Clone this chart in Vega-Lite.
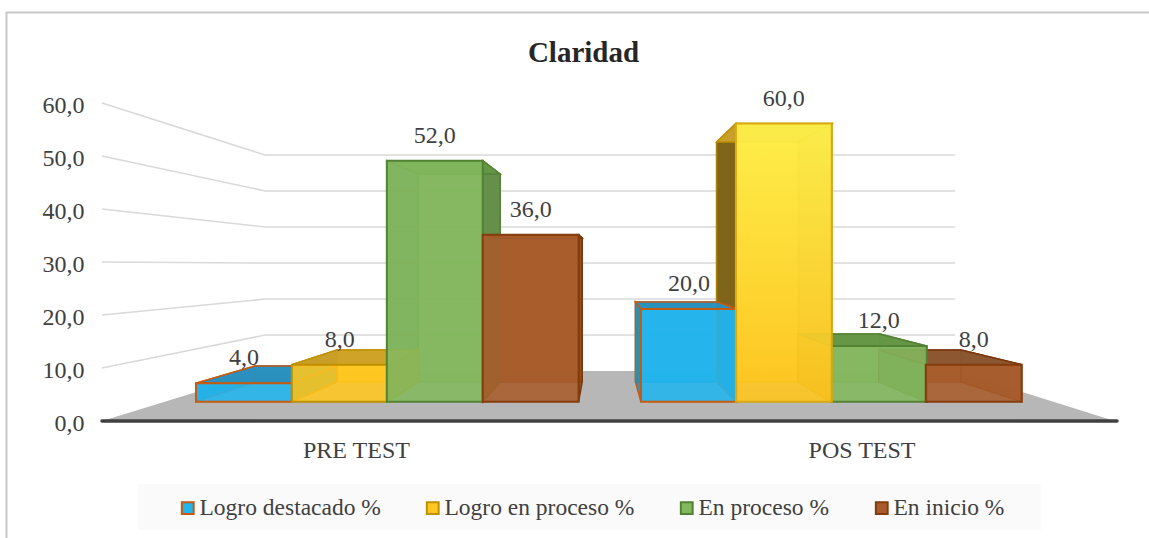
{
"$schema":"https://vega.github.io/schema/vega-lite/v6.json",
"width":1015,"height":341,
"autosize":{"type":"none"},
"padding":{"left":102,"top":80,"right":32,"bottom":117},
"background":"white",
"title":{"text":"Claridad","anchor":"middle","dx":-26,"dy":73,"offset":14,"fontSize":29,"font":"Liberation Serif","fontWeight":"bold","color":"#262626"},
"config":{"view":{"stroke":null},"text":{"font":"Liberation Serif"},"axis":{"title":null,"grid":false,"ticks":false,"domain":false}},
"datasets":{
"barras":[
{"grupo":"PRE TEST","serie":"Logro destacado %","valor":4,"p":0},
{"grupo":"PRE TEST","serie":"Logro en proceso %","valor":8,"p":1},
{"grupo":"PRE TEST","serie":"En proceso %","valor":52,"p":1.99},
{"grupo":"PRE TEST","serie":"En inicio %","valor":36,"p":2.99},
{"grupo":"POS TEST","serie":"Logro destacado %","valor":20,"p":4.64},
{"grupo":"POS TEST","serie":"Logro en proceso %","valor":60,"p":5.63},
{"grupo":"POS TEST","serie":"En proceso %","valor":12,"p":6.62},
{"grupo":"POS TEST","serie":"En inicio %","valor":8,"p":7.61}
],
"rejilla":[
{"t":10,"x":-0.98,"y":10},{"t":10,"x":0.72,"y":16.22},{"t":10,"x":7.915,"y":16.22},
{"t":20,"x":-0.98,"y":20},{"t":20,"x":0.72,"y":23.01},{"t":20,"x":7.915,"y":23.01},
{"t":30,"x":-0.98,"y":30},{"t":30,"x":0.72,"y":29.81},{"t":30,"x":7.915,"y":29.81},
{"t":40,"x":-0.98,"y":40},{"t":40,"x":0.72,"y":36.6},{"t":40,"x":7.915,"y":36.6},
{"t":50,"x":-0.98,"y":50},{"t":50,"x":0.72,"y":43.4},{"t":50,"x":7.915,"y":43.4},
{"t":60,"x":-0.98,"y":60},{"t":60,"x":0.72,"y":50.19},{"t":60,"x":7.915,"y":50.19}
],
"piso":[{"x":-0.98,"y":0,"y0":0},{"x":0.72,"y":9.43,"y0":0},{"x":7.915,"y":9.43,"y0":0},{"x":9.58,"y":0,"y0":0}],
"eje":[{"x":-0.98,"y":0},{"x":9.604,"y":0}],
"marco":[{"i":0,"x":-1.976,"y":-22.08},{"i":1,"x":-1.976,"y":77.07},{"i":2,"x":9.95,"y":77.07}],
"fondo":[{"x":-0.605,"x2":8.811,"y":-11.887,"y2":-20.566}]
},
"resolve":{"scale":{"fill":"independent","stroke":"independent"}},
"layer":[
{"data":{"name":"marco"},"mark":{"type":"line","color":"#c8c8c8","strokeWidth":2,"clip":false},
 "encoding":{"order":{"field":"i"},
  "x":{"field":"x","type":"quantitative","title":null,"scale":{"domain":[-0.98,9.604],"nice":false,"zero":false},
   "axis":{"title":null,"values":[1.668,6.94],"labelExpr":"datum.value<4?'PRE TEST':'POS TEST'","ticks":false,"domain":false,"grid":false,"labelFont":"Liberation Serif","labelFontSize":24,"labelColor":"#404040","labelPadding":17}},
  "y":{"field":"y","type":"quantitative","title":null,"scale":{"domain":[0,64.34],"nice":false,"zero":false},
   "axis":{"title":null,"values":[0,10,20,30,40,50,60],"labelExpr":"replace(format(datum.value,'.1f'),'.',',')","ticks":false,"domain":false,"grid":false,"labelFont":"Liberation Serif","labelFontSize":24,"labelColor":"#404040","labelPadding":18,"labelOffset":2}}}},
{"data":{"name":"fondo"},"mark":{"type":"rect","fill":"#fafafa"},
 "encoding":{"x":{"field":"x","type":"quantitative","title":null},"x2":{"field":"x2"},"y":{"field":"y","type":"quantitative","title":null},"y2":{"field":"y2"}}},
{"data":{"name":"rejilla"},"mark":{"type":"line","color":"#d9d9d9","strokeWidth":1.5},
 "encoding":{"detail":{"field":"t"},"x":{"field":"x","type":"quantitative","title":null},"y":{"field":"y","type":"quantitative","title":null}}},
{"data":{"name":"piso"},"mark":{"type":"area","color":"#b7b7b7"},
 "encoding":{"x":{"field":"x","type":"quantitative","title":null},"y":{"field":"y","type":"quantitative","title":null},"y2":{"field":"y0"}}},
{"data":{"name":"barras"},
 "transform":[
  {"calculate":"4.244+(datum.p-4.244)*0.855","as":"bx0"},{"calculate":"4.244+(datum.p+1-4.244)*0.855","as":"bx1"},
  {"calculate":"7.36+0.7547*datum.valor","as":"yb"},{"calculate":"7.36","as":"bb"}],
 "mark":{"type":"rect","fillOpacity":0.9,"strokeWidth":1.5},
 "encoding":{"x":{"field":"bx0","type":"quantitative","title":null},"x2":{"field":"bx1"},"y":{"field":"bb","type":"quantitative","title":null},"y2":{"field":"yb"},
  "fill":{"field":"serie","legend":null,"scale":{"domain":["Logro destacado %","Logro en proceso %","En proceso %","En inicio %"],"range":["#22a9dc","#f5bd1e","#7bad58","#a2562a"]}},
  "stroke":{"field":"serie","legend":null,"scale":{"domain":["Logro destacado %","Logro en proceso %","En proceso %","En inicio %"],"range":["#1e96c4","#d9a90f","#6b9c4a","#8d4a1c"]}}}},
{"data":{"name":"barras"},
 "transform":[
  {"calculate":"4.244+(datum.p-4.244)*0.855","as":"bx0"},
  {"calculate":"3.64+0.8745*datum.valor","as":"yf"},{"calculate":"7.36+0.7547*datum.valor","as":"yb"},
  {"calculate":"datum.p","as":"x0"},
  {"fold":["x0","bx0"],"as":["k","xw"]},
  {"calculate":"datum.k=='x0'?datum.yf:datum.yb","as":"ys"},{"calculate":"datum.k=='x0'?3.64:7.36","as":"yi"}],
 "mark":{"type":"area","orient":"vertical","fillOpacity":0.85,"strokeWidth":1.5},
 "encoding":{"detail":[{"field":"grupo"},{"field":"serie"}],"x":{"field":"xw","type":"quantitative","title":null},"y":{"field":"ys","type":"quantitative","title":null},"y2":{"field":"yi"},
  "fill":{"field":"serie","legend":null,"scale":{"domain":["Logro destacado %","Logro en proceso %","En proceso %","En inicio %"],"range":["#1a8fb8","#6a5418","#5e8a48","#8c4a1a"]}},
  "stroke":{"field":"serie","legend":null,"scale":{"domain":["Logro destacado %","Logro en proceso %","En proceso %","En inicio %"],"range":["#c55a11","#a98000","#548235","#7a370c"]}}}},
{"data":{"name":"barras"},
 "transform":[
  {"calculate":"4.244+(datum.p+1-4.244)*0.855","as":"bx1"},
  {"calculate":"3.64+0.8745*datum.valor","as":"yf"},{"calculate":"7.36+0.7547*datum.valor","as":"yb"},
  {"calculate":"datum.p+1","as":"x1"},
  {"fold":["x1","bx1"],"as":["k","xw"]},
  {"calculate":"datum.k=='x1'?datum.yf:datum.yb","as":"ys"},{"calculate":"datum.k=='x1'?3.64:7.36","as":"yi"}],
 "mark":{"type":"area","orient":"vertical","fillOpacity":0.85,"strokeWidth":1.5},
 "encoding":{"detail":[{"field":"grupo"},{"field":"serie"}],"x":{"field":"xw","type":"quantitative","title":null},"y":{"field":"ys","type":"quantitative","title":null},"y2":{"field":"yi"},
  "fill":{"field":"serie","legend":null,"scale":{"domain":["Logro destacado %","Logro en proceso %","En proceso %","En inicio %"],"range":["#1a8fb8","#c79a1c","#5e8a48","#8c4a1a"]}},
  "stroke":{"field":"serie","legend":null,"scale":{"domain":["Logro destacado %","Logro en proceso %","En proceso %","En inicio %"],"range":["#c55a11","#bf9000","#548235","#7a370c"]}}}},
{"data":{"name":"barras"},
 "transform":[
  {"calculate":"4.244+(datum.p-4.244)*0.855","as":"bx0"},{"calculate":"4.244+(datum.p+1-4.244)*0.855","as":"bx1"},
  {"calculate":"3.64+0.8745*datum.valor","as":"yf"},{"calculate":"7.36+0.7547*datum.valor","as":"yb"},
  {"fold":["yf","yb"],"as":["k","yw"]},
  {"calculate":"datum.k=='yf'?datum.p:datum.bx0","as":"xa"},{"calculate":"datum.k=='yf'?datum.p+1:datum.bx1","as":"xb"}],
 "mark":{"type":"area","orient":"horizontal","fillOpacity":0.95,"strokeWidth":1.5},
 "encoding":{"detail":[{"field":"grupo"},{"field":"serie"}],"y":{"field":"yw","type":"quantitative","title":null},"x":{"field":"xa","type":"quantitative","title":null},"x2":{"field":"xb"},
  "fill":{"field":"serie","legend":null,"scale":{"domain":["Logro destacado %","Logro en proceso %","En proceso %","En inicio %"],"range":["#2a8fbd","#cca128","#639645","#8a5630"]}},
  "stroke":{"field":"serie","legend":null,"scale":{"domain":["Logro destacado %","Logro en proceso %","En proceso %","En inicio %"],"range":["#c55a11","#bf9000","#548235","#7a370c"]}}}},
{"data":{"name":"barras"},
 "transform":[{"filter":"!(datum.grupo=='POS TEST'&&datum.valor==60)"},
  {"calculate":"datum.p+1","as":"x1"},{"calculate":"3.64+0.8745*datum.valor","as":"yf"},{"calculate":"3.64","as":"fb"}],
 "mark":{"type":"rect","fillOpacity":0.88,"strokeWidth":2},
 "encoding":{"x":{"field":"p","type":"quantitative","title":null},"x2":{"field":"x1"},"y":{"field":"fb","type":"quantitative","title":null},"y2":{"field":"yf"},
  "fill":{"field":"serie","type":"nominal","title":null,"scale":{"domain":["Logro destacado %","Logro en proceso %","En proceso %","En inicio %"],"range":["#22b5ee","#ffc71f","#84b85f","#a95c2b"]},
   "legend":{"orient":"none","legendX":74,"legendY":416,"direction":"horizontal","columns":4,"columnPadding":40,"padding":0,"symbolType":"square","symbolSize":140,"symbolStrokeWidth":2,"symbolOpacity":1,"labelFont":"Liberation Serif","labelFontSize":23.5,"labelColor":"#404040","labelOffset":0,"labelLimit":400,"title":null}},
  "stroke":{"field":"serie","type":"nominal","title":null,"scale":{"domain":["Logro destacado %","Logro en proceso %","En proceso %","En inicio %"],"range":["#c55a11","#bf9000","#548235","#843c0c"]},
   "legend":{"orient":"none","legendX":74,"legendY":416,"direction":"horizontal","columns":4,"columnPadding":40,"padding":0,"symbolType":"square","symbolSize":140,"symbolStrokeWidth":2,"labelFont":"Liberation Serif","labelFontSize":23.5,"labelColor":"#404040","labelOffset":0,"labelLimit":400,"title":null}}}},
{"data":{"name":"barras"},
 "transform":[{"filter":"datum.grupo=='POS TEST'&&datum.valor==60"},
  {"calculate":"datum.p+1","as":"x1"},{"calculate":"3.64+0.8745*datum.valor","as":"yf"},{"calculate":"3.64","as":"fb"}],
 "mark":{"type":"rect","strokeWidth":2,"stroke":"#d9a90f","fill":{"x1":0,"y1":0,"x2":0,"y2":1,"gradient":"linear","stops":[{"offset":0,"color":"#fff34c"},{"offset":1,"color":"#fec41e"}]},"fillOpacity":0.9},
 "encoding":{"x":{"field":"p","type":"quantitative","title":null},"x2":{"field":"x1"},"y":{"field":"fb","type":"quantitative","title":null},"y2":{"field":"yf"}}},
{"data":{"name":"barras"},
 "transform":[{"calculate":"datum.p+0.5","as":"xc"},{"calculate":"3.64+0.8745*datum.valor","as":"yf"},{"calculate":"replace(format(datum.valor,'.1f'),'.',',')","as":"etiqueta"}],
 "mark":{"type":"text","dy":-25,"baseline":"middle","fontSize":24,"color":"#404040","font":"Liberation Serif"},
 "encoding":{"x":{"field":"xc","type":"quantitative","title":null},"y":{"field":"yf","type":"quantitative","title":null},"text":{"field":"etiqueta"}}},
{"data":{"name":"eje"},"mark":{"type":"line","color":"#404040","strokeWidth":3.5,"strokeCap":"round"},
 "encoding":{"x":{"field":"x","type":"quantitative","title":null},"y":{"field":"y","type":"quantitative","title":null}}}
]
}
